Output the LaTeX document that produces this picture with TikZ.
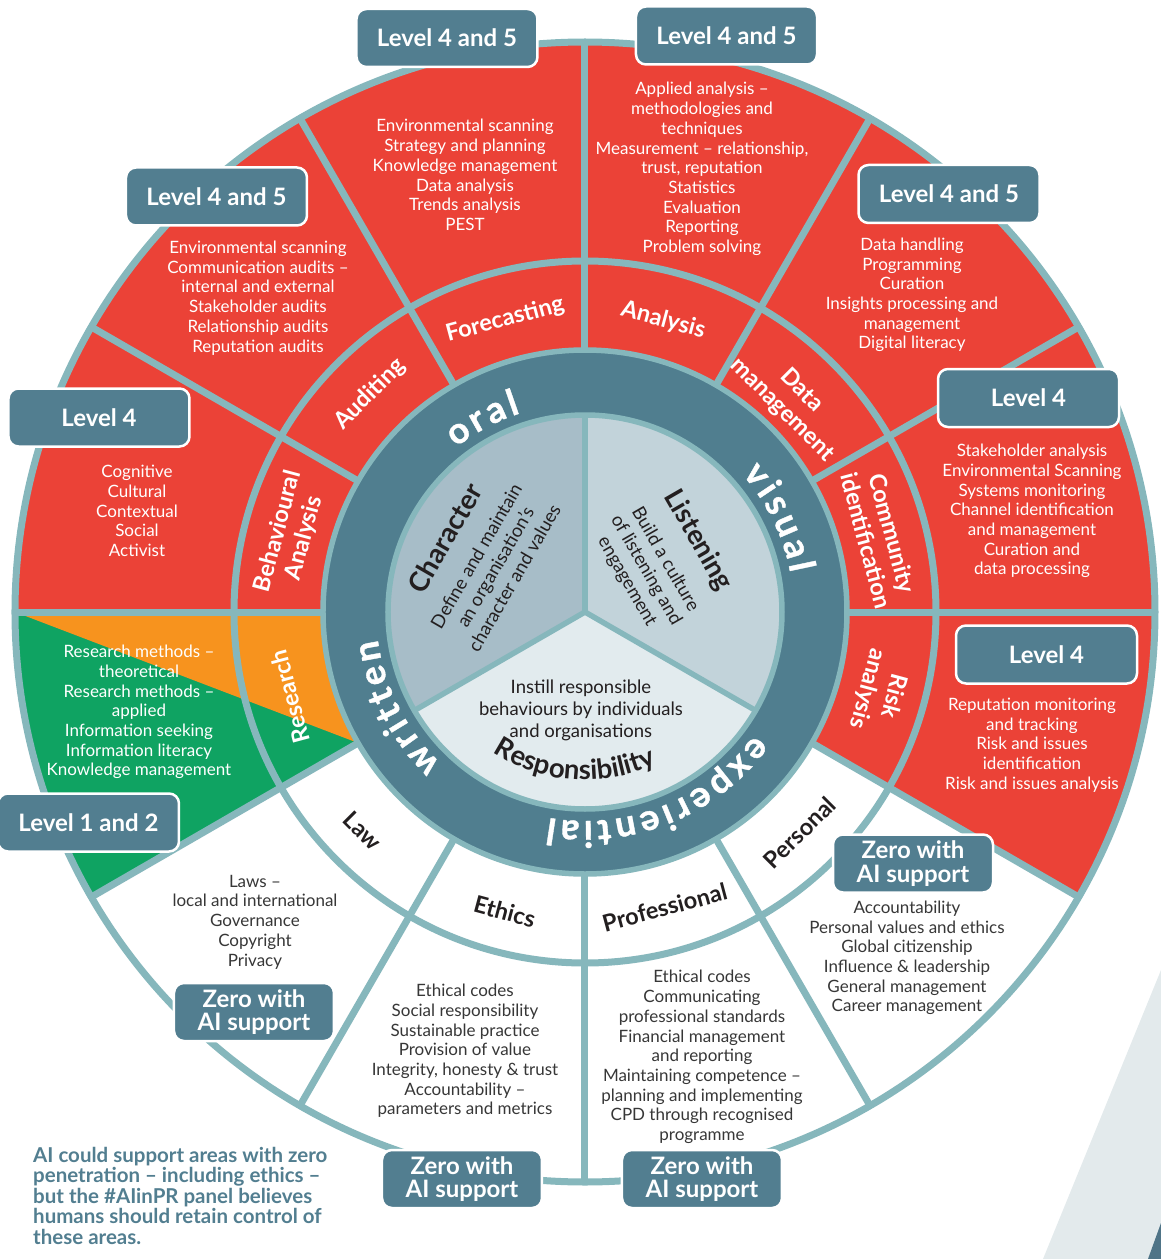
\documentclass[tikz,border=0pt]{standalone}
\usepackage{fontspec}
\setmainfont{Lato}
\newfontfamily\ringfamily{Lato}[BoldFeatures={FakeBold=1}]
\usetikzlibrary{decorations.text}

\definecolor{wheelred}{RGB}{235,66,55}
\definecolor{wheelorange}{RGB}{247,147,30}
\definecolor{wheelgreen}{RGB}{15,163,98}
\definecolor{ringblue}{RGB}{80,126,143}
\definecolor{boxblue}{RGB}{82,126,144}
\definecolor{rimline}{RGB}{134,183,188}
\definecolor{charfill}{RGB}{167,189,200}
\definecolor{listenfill}{RGB}{194,211,218}
\definecolor{respfill}{RGB}{226,235,238}
\definecolor{inktext}{RGB}{35,31,32}
\definecolor{graytext}{RGB}{55,55,55}
\definecolor{decolight}{RGB}{227,234,236}
\definecolor{decodark}{RGB}{79,116,135}

% channel words: heavy letters, narrow spaces between them
\newcommand\ringfont{\ringfamily\bfseries\fontsize{36.5}{36.5}\selectfont}
\newcommand\gapfont{\ringfamily\bfseries\fontsize{15.5}{15.5}\selectfont}
\newcommand\headfont{\bfseries\fontsize{27.5}{30}\selectfont}
\newcommand\descfont{\fontsize{18.5}{22}\selectfont}
% annular sector: colour, start angle, end angle, inner radius, outer radius
\newcommand\band[5]{\fill[#1] (#2:#4) arc[start angle=#2, end angle=#3, radius=#4]
  -- (#3:#5) arc[start angle=#3, end angle=#2, radius=#5] -- cycle;}

\begin{document}
\begin{tikzpicture}[x=1pt,y=1pt,
  rim/.style={draw=rimline, line width=7pt},
  thinrim/.style={draw=rimline, line width=5.5pt},
  skill/.style={align=center, inner sep=0pt, font=\fontsize{17}{19.7}\selectfont},
  skilllight/.style={skill, text=white},
  skilldark/.style={skill, text=graytext},
  area/.style={align=center, inner sep=0pt, font=\bfseries\fontsize{23.5}{27}\selectfont},
  arealight/.style={area, text=white},
  areadark/.style={area, text=inktext},
  tag/.style={fill=boxblue, draw=white, line width=2.5pt, rounded corners=10pt,
    text=white, font=\bfseries\fontsize{24}{23.5}\selectfont, align=center,
    inner sep=0pt, minimum width=181pt, minimum height=58pt},
  zerotag/.style={tag, minimum width=160pt},
  pillar/.style={text=inktext, inner sep=0pt, align=center},
  ringword/.style={decorate, decoration={text along path, text align=center,
    text color=white, text={#1}}}
]
\useasboundingbox (-585,-647) rectangle (576,612);

% corner decoration
\fill[decolight] (458,-647) -- (576,-358) -- (576,-647) -- cycle;
\fill[decodark] (563,-647) -- (576,-611) -- (576,-647) -- cycle;

% outer and middle rings
\fill[white] (0,0) circle[radius=570pt];
\band{wheelred}{-30}{180}{262pt}{570pt}
\band{wheelgreen}{180}{210}{262pt}{570pt}
\fill[wheelorange] (180:570pt) -- (210:262pt) arc[start angle=210, end angle=180, radius=262pt] -- cycle;

% channel ring and inner pillars
\fill[ringblue] (0,0) circle[radius=262pt];
\fill[charfill] (0,0) -- (90:197pt) arc[start angle=90, end angle=210, radius=197pt] -- cycle;
\fill[listenfill] (0,0) -- (-30:197pt) arc[start angle=-30, end angle=90, radius=197pt] -- cycle;
\fill[respfill] (0,0) -- (210:197pt) arc[start angle=210, end angle=330, radius=197pt] -- cycle;

% dividing lines
\draw[rim] (0,0) circle[radius=570pt];
\draw[rim] (0,0) circle[radius=351pt];
\foreach \a in {0,30,...,330} \draw[rim] (\a:262pt) -- (\a:570pt);
\draw[thinrim] (0,0) circle[radius=262pt];
\draw[thinrim] (0,0) circle[radius=197pt];
\foreach \a in {90,210,330} \draw[thinrim] (0,0) -- (\a:197pt);

% channel words
\path[ringword={|\ringfont|o|\gapfont| |\ringfont|r|\gapfont| |\ringfont|a|\gapfont| |\ringfont|l}]
  (168:209pt) arc[start angle=168, end angle=68, radius=209pt];
\path[ringword={|\ringfont|v|\gapfont| |\ringfont|i|\gapfont| |\ringfont|s|\gapfont| |\ringfont|u|\gapfont| |\ringfont|a|\gapfont| |\ringfont|l}]
  (76:209pt) arc[start angle=76, end angle=-24, radius=209pt];
\path[ringword={|\ringfont|e|\gapfont| |\ringfont|x|\gapfont| |\ringfont|p|\gapfont| |\ringfont|e|\gapfont| |\ringfont|r|\gapfont| |\ringfont|i|\gapfont| |\ringfont|e|\gapfont| |\ringfont|n|\gapfont| |\ringfont|t|\gapfont| |\ringfont|i|\gapfont| |\ringfont|a|\gapfont| |\ringfont|l}]
  (-18:209pt) arc[start angle=-18, end angle=-118, radius=209pt];
\path[ringword={|\ringfont|w|\gapfont| |\ringfont|r|\gapfont| |\ringfont|i|\gapfont| |\ringfont|t|\gapfont| |\ringfont|t|\gapfont| |\ringfont|e|\gapfont| |\ringfont|n}]
  (257:209pt) arc[start angle=257, end angle=157, radius=209pt];

% pillars
\begin{scope}[shift={(-102,52)}, rotate=60, transform shape]
  \node[pillar, font=\headfont] (character) at (0,44) {Character};
  \node[pillar, font=\descfont] (characterdesc) at (0,-14) {Define and maintain\\an organisation’s\\character and values};
\end{scope}
\begin{scope}[shift={(74,49)}, rotate=-60, transform shape]
  \node[pillar, font=\headfont] (listening) at (0,45) {Listening};
  \node[pillar, font=\descfont] (listeningdesc) at (0,-15) {Build a culture\\of listening and\\engagement};
\end{scope}
\node[pillar, font=\descfont] (responsibilitydesc) at (-4,-98) {Instill responsible\\behaviours by individuals\\and organisations};
\path[decorate, decoration={text along path, text align=center, text color=inktext,
  text={|\headfont|Responsibility}}] (-126:168pt) arc[start angle=-126, end angle=-62, radius=168pt];

% competence areas
\node[arealight, rotate=15] (forecasting) at (105.3:303pt) {Forecasting};
\node[arealight, rotate=-15] (analysis) at (75:302pt) {Analysis};
\node[arealight, rotate=45] (auditing) at (134.6:306pt) {Auditing};
\node[arealight, rotate=75] (behavioural) at (165.3:304pt) {Behavioural\\Analysis};
\node[arealight, rotate=-45] (datamgmt) at (45.7:296pt) {Data\\management};
\node[arealight, rotate=-75] (community) at (14.3:304pt) {Community\\identification};
\node[arealight, rotate=-105] (risk) at (-15.2:306pt) {Risk\\analysis};
\node[areadark, rotate=45] (personal) at (-45.8:308pt) {Personal};
\node[areadark, rotate=15] (professional) at (-74.9:306pt) {Professional};
\node[areadark, rotate=-15] (ethics) at (-105:310pt) {Ethics};
\node[areadark, rotate=-45] (law) at (-135.5:312pt) {Law};
\node[arealight, rotate=105] (research) at (-164:307pt) {Research};

% skills
\node[skilllight] (forecastskills) at (-120,437) {Environmental scanning\\Strategy and planning\\Knowledge management\\Data analysis\\Trends analysis\\PEST};
\node[skilllight] (analysisskills) at (117,443) {Applied analysis –\\methodologies and\\techniques\\Measurement – relationship,\\trust, reputation\\Statistics\\Evaluation\\Reporting\\Problem solving};
\node[skilllight] (auditskills) at (-327,314) {Environmental scanning\\Communication audits –\\internal and external\\Stakeholder audits\\Relationship audits\\Reputation audits};
\node[skilllight] (behavskills) at (-448,101) {Cognitive\\Cultural\\Contextual\\Social\\Activist};
\node[skilllight] (dataskills) at (327,317) {Data handling\\Programming\\Curation\\Insights processing and\\management\\Digital literacy};
\node[skilllight] (communityskills) at (447,101) {Stakeholder analysis\\Environmental Scanning\\Systems monitoring\\Channel identification\\and management\\Curation and\\data processing};
\node[skilllight] (riskskills) at (447,-133) {Reputation monitoring\\and tracking\\Risk and issues\\identification\\Risk and issues analysis};
\node[skilldark] (personalskills) at (322,-346) {Accountability\\Personal values and ethics\\Global citizenship\\Influence \& leadership\\General management\\Career management};
\node[skilldark] (professionalskills) at (117,-445) {Ethical codes\\Communicating\\professional standards\\Financial management\\and reporting\\Maintaining competence –\\planning and implementing\\CPD through recognised\\programme};
\node[skilldark] (ethicsskills) at (-120,-439) {Ethical codes\\Social responsibility\\Sustainable practice\\Provision of value\\Integrity, honesty \& trust\\Accountability –\\parameters and metrics};
\node[skilldark] (lawskills) at (-330,-310) {Laws –\\local and international\\Governance\\Copyright\\Privacy};
\node[skilllight] (researchskills) at (-446,-100) {Research methods –\\theoretical\\Research methods –\\applied\\Information seeking\\Information literacy\\Knowledge management};

% level tags
\node[tag] (forecastlevel) at (-138,574) {Level 4 and 5};
\node[tag] (analysislevel) at (141.5,576.5) {Level 4 and 5};
\node[tag] (auditlevel) at (-368.5,415.5) {Level 4 and 5};
\node[tag] (datalevel) at (364,418) {Level 4 and 5};
\node[tag] (behavlevel) at (-486,194.5) {Level 4};
\node[tag] (communitylevel) at (443.5,214) {Level 4};
\node[tag] (risklevel) at (461.5,-42.5) {Level 4};
\node[tag] (researchlevel) at (-496.5,-210.5) {Level 1 and 2};
\node[zerotag] (personallevel) at (328,-251.5) {Zero with\\AI support};
\node[zerotag] (lawlevel) at (-331,-400) {Zero with\\AI support};
\node[zerotag] (ethicslevel) at (-123,-567) {Zero with\\AI support};
\node[zerotag] (professionallevel) at (117,-567) {Zero with\\AI support};

% footnote
\node[anchor=north west, align=left, inner sep=0pt, text=boxblue,
  font=\bfseries\fontsize{20.5}{20.4}\selectfont] (note) at (-552,-535)
  {AI could support areas with zero\\penetration – including ethics –\\but the \#AIinPR panel believes\\humans should retain control of\\these areas.};
\end{tikzpicture}
\end{document}
